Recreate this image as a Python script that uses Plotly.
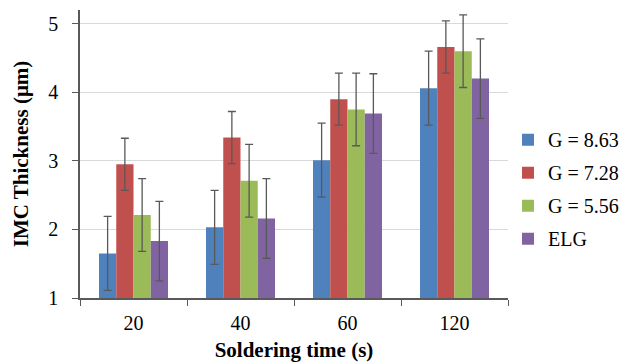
import plotly.graph_objects as go

categories = ["20", "40", "60", "120"]
series_names = ["G = 8.63", "G = 7.28", "G = 5.56", "ELG"]
g863 = [1.65, 2.03, 3.01, 4.06]
g728 = [2.95, 3.34, 3.90, 4.66]
g556 = [2.21, 2.71, 3.75, 4.60]
elg = [1.83, 2.16, 3.69, 4.20]
errors = [0.54, 0.38, 0.53, 0.58]
colors = ["#4F81BD", "#C0504D", "#9BBB59", "#8064A2"]

values = [g863, g728, g556, elg]

fig = go.Figure()
for i, (name, vals) in enumerate(zip(series_names, values)):
    fig.add_trace(go.Bar(
        x=categories, y=vals, name=name,
        marker=dict(color=colors[i], line=dict(width=0)),
        legendgroup=name,
        error_y=dict(type="constant", value=errors[i], color="#595959",
                     thickness=1.3, width=4),
    ))

ff = "Liberation Serif, Times New Roman, serif"
fig.update_layout(
    width=630, height=364,
    margin=dict(l=80, r=122, t=10, b=66, autoexpand=False),
    paper_bgcolor="white", plot_bgcolor="white",
    barmode="group", bargap=0.355, bargroupgap=0,
    font=dict(family=ff, size=20, color="#000000"),
    showlegend=True,
    legend=dict(x=1.0, y=0.378, xanchor="left", yanchor="middle",
                font=dict(family=ff, size=20), tracegroupgap=4, itemwidth=30,
                bgcolor="rgba(0,0,0,0)"),
    xaxis=dict(
        type="category", automargin=False,
        title=dict(text="<b>Soldering time (s)</b>", font=dict(family=ff, size=21), standoff=10),
        showline=True, linecolor="#595959", linewidth=1.5,
        ticks="outside", tickson="boundaries", ticklen=6, tickcolor="#595959",
        tickfont=dict(family=ff, size=20), ticklabelstandoff=6,
        showgrid=False,
    ),
    yaxis=dict(
        range=[1, 5.2], automargin=False,
        tickvals=[1, 2, 3, 4, 5],
        title=dict(text="<b>IMC Thickness (μm)</b>", font=dict(family=ff, size=21), standoff=14),
        showline=True, linecolor="#595959", linewidth=1.5,
        ticks="outside", ticklen=6, tickcolor="#595959",
        tickfont=dict(family=ff, size=20), ticklabelstandoff=10,
        showgrid=True, gridcolor="#D9D9D9", gridwidth=1,
        zeroline=False,
    ),
)

fig.write_html("out.html")
